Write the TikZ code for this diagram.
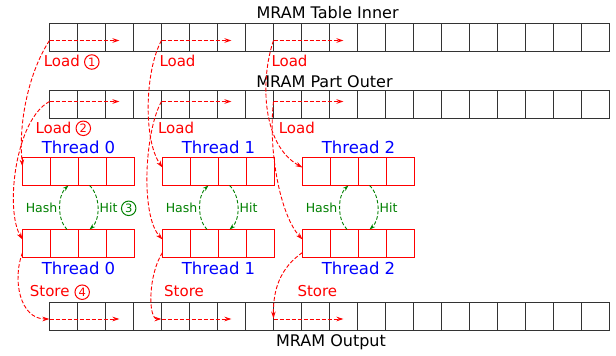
\documentclass[tikz,border=0pt]{standalone}
\usepackage{fontspec}
\setmainfont{DejaVu Sans}
\usetikzlibrary{calc,arrows.meta}
\begin{document}
\begin{tikzpicture}[x=1pt,y=-1pt,
  mcell/.style={minimum width=28pt, minimum height=28pt, inner sep=0pt, outer sep=0pt},
  mline/.style={draw=black!80, line width=1.4pt},
  tcell/.style={minimum width=28pt, minimum height=28pt, inner sep=0pt, outer sep=0pt},
  tline/.style={draw=red, line width=1.1pt},
  flow/.style={red, line width=0.9pt, dash pattern=on 4pt off 2pt, -{Stealth[length=7pt,width=4.5pt]}},
  gflow/.style={green!50!black, line width=0.9pt, dash pattern=on 3.5pt off 2pt, -{Stealth[length=6pt,width=4pt]}},
  title/.style={font=\fontsize{16}{19}\selectfont, anchor=base, inner sep=0pt},
  thr/.style={font=\fontsize{16.5}{19}\selectfont, text=blue, anchor=base, inner sep=0pt},
  step label/.style={font=\fontsize{15}{18}\selectfont, text=red, anchor=base west, inner sep=0pt},
  glabel/.style={font=\fontsize{12.5}{15}\selectfont, text=green!50!black, inner sep=0pt},
  num/.style={circle, draw=#1, text=#1, line width=1pt, minimum size=14.5pt, inner sep=0pt, font=\fontsize{11.5}{13}\selectfont}
]
\useasboundingbox (0,0) rectangle (616,356);
% MRAM rows
\foreach \i in {0,...,19} {
  \node[mcell] (A\i) at ({49.5+28*(\i+0.5)},37.5) {};
  \node[mcell] (B\i) at ({49.5+28*(\i+0.5)},104.5) {};
  \node[mcell] (C\i) at ({49.5+28*(\i+0.5)},316.5) {};
}
\foreach \r in {A,B,C} {
  \draw[mline] (\r0.north west) rectangle (\r19.south east);
  \foreach \i in {1,...,19} \draw[mline] (\r\i.north west) -- (\r\i.south west);
}
% thread buffers
\foreach \t in {0,1,2} {
  \foreach \j in {0,...,3} {
    \node[tcell] (U\t\j) at ({22.5+140*\t+28*(\j+0.5)},171.5) {};
    \node[tcell] (L\t\j) at ({22.5+140*\t+28*(\j+0.5)},243.5) {};
  }
  \draw[tline] (U\t0.north west) rectangle (U\t3.south east);
  \draw[tline] (L\t0.north west) rectangle (L\t3.south east);
  \foreach \j in {1,2,3} {
    \draw[tline] (U\t\j.north west) -- (U\t\j.south west);
    \draw[tline] (L\t\j.north west) -- (L\t\j.south west);
  }
  \node[thr] (TU\t) at ($(U\t1.north east)+(0,-4)$) {Thread \t};
  \node[thr] (TL\t) at ($(L\t1.south east)+(0,17)$) {Thread \t};
  % hash / hit
  \draw[gflow] ($(L\t1.north)+(2.5,0)$) .. controls +(-10,-10) and +(-11,10) .. ($(U\t1.south)+(4,0)$);
  \draw[gflow] ($(U\t2.south)+(-3,0)$) .. controls +(11,10) and +(11,-10) .. ($(L\t2.north)+(-3,0)$);
  \node[glabel, anchor=base east] (HA\t) at ({57.5+140*\t},212.5) {Hash};
  \node[glabel, anchor=base west] (HI\t) at ({99.5+140*\t},212.5) {Hit};
}
\node[num=green!50!black] (n3) at (128.7,208.3) {3};

% titles
\node[title] (t1) at (327.6,18.3) {MRAM Table Inner};
\node[title] (t2) at (324.5,87.2) {MRAM Part Outer};
\node[title] (t3) at (331,346.7) {MRAM Output};

% step labels
\node[step label] (la0) at (43.6,66.7) {Load};
\node[num=red] (n1) at (91.8,62) {1};
\node[step label] (la1) at (159.3,66.7) {Load};
\node[step label] (la2) at (271.3,66.7) {Load};
\node[step label] (lb0) at (35.3,133.3) {Load};
\node[num=red] (n2) at (83.3,128.3) {2};
\node[step label] (lb1) at (157.9,133.3) {Load};
\node[step label] (lb2) at (278.6,133.3) {Load};
\node[step label] (s0) at (29.7,296.7) {Store};
\node[num=red] (n4) at (82.2,292.2) {4};
\node[step label] (s1) at (164,296.7) {Store};
\node[step label] (s2) at (297.3,296.7) {Store};

% horizontal flows
\foreach \a/\b in {0/2,4/6,8/10} {
  \draw[flow] ($(A\a.west)+(0,3)$) -- ($(A\b.center)+(0,3)$);
  \draw[flow] ($(B\a.west)+(0,-3)$) -- ($(B\b.center)+(0,-3)$);
  \draw[flow] ($(C\a.west)+(0,2.5)$) -- ($(C\b.center)+(0,2.5)$);
}

% thread 0
\draw[flow] ($(A0.west)+(0,3)$) .. controls (30,70) and (18,120) .. ($(U00.west)+(0,-5)$);
\draw[flow] ($(B0.west)+(0,-3)$) .. controls (15,120) and (5,210) .. ($(L00.west)+(0,-4)$);
\draw[flow] ($(L00.west)+(0,9)$) .. controls (12,280) and (20,319) .. ($(C0.west)+(0,2.5)$);
% thread 1
\draw[flow] ($(A4.west)+(0,3)$) .. controls (145,70) and (143,140) .. ($(U10.west)+(0,-4)$);
\draw[flow] ($(B4.west)+(0,-3)$) .. controls (145,130) and (140,215) .. ($(L10.west)+(0,-4)$);
\draw[flow] ($(L10.west)+(0,9)$) .. controls (148,275) and (148,319) .. ($(C4.west)+(0,2.5)$);
% thread 2
\draw[flow] ($(A8.west)+(0,3)$) .. controls (260,80) and (262,145) .. ($(U20.west)+(0,-4)$);
\draw[flow] ($(B8.west)+(0,-3)$) .. controls (268,150) and (280,215) .. ($(L20.west)+(0,-4)$);
\draw[flow] ($(L20.west)+(0,9)$) .. controls (280,268) and (273,290) .. ($(C8.west)+(0,2)$);
\end{tikzpicture}
\end{document}
